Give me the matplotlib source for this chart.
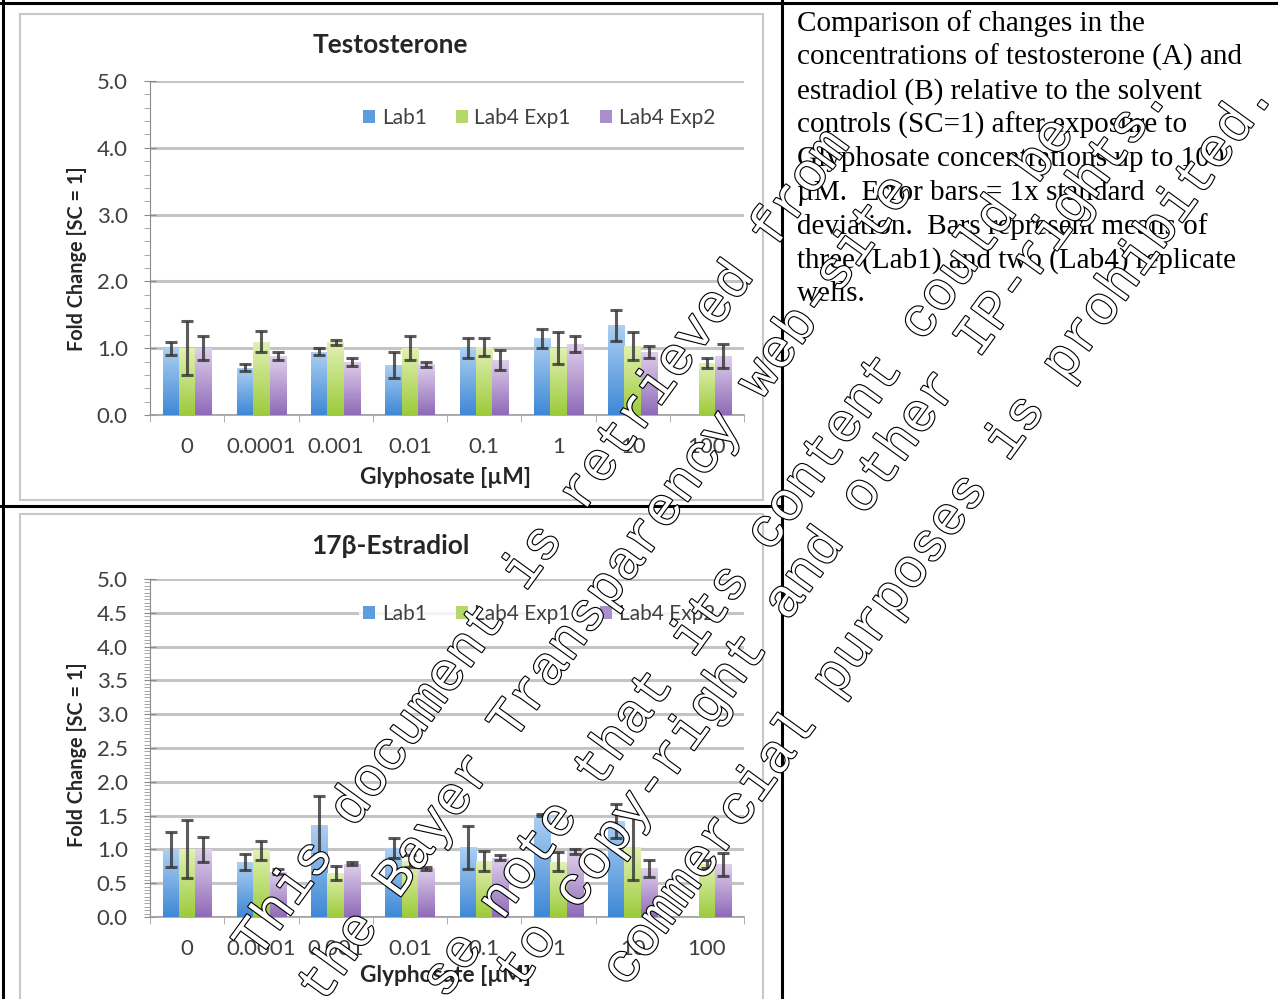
import numpy as np
import matplotlib.pyplot as plt
import matplotlib.patheffects as pe
from matplotlib.patches import Patch, Rectangle
from matplotlib.lines import Line2D
from matplotlib.colors import LinearSegmentedColormap

W, H = 1278, 999

categories = ['0', '0.0001', '0.001', '0.01', '0.1', '1', '10', '100']
series = ['Lab1', 'Lab4 Exp1', 'Lab4 Exp2']

# testosterone, fold change vs solvent control
testo_lab1 = [1.00, 0.71, 0.95, 0.75, 1.01, 1.15, 1.34, np.nan]
testo_lab1_sd = [0.10, 0.05, 0.05, 0.19, 0.15, 0.14, 0.23, np.nan]
testo_exp1 = [1.00, 1.10, 1.09, 1.01, 1.02, 1.01, 1.04, 0.78]
testo_exp1_sd = [0.40, 0.16, 0.04, 0.18, 0.14, 0.24, 0.21, 0.08]
testo_exp2 = [1.01, 0.88, 0.80, 0.76, 0.83, 1.07, 0.95, 0.89]
testo_exp2_sd = [0.18, 0.06, 0.06, 0.04, 0.15, 0.12, 0.09, 0.18]

# estradiol, fold change vs solvent control
e2_lab1 = [1.00, 0.81, 1.36, 1.02, 1.03, 1.51, 1.42, np.nan]
e2_lab1_sd = [0.26, 0.12, 0.43, 0.15, 0.32, 0.02, 0.25, np.nan]
e2_exp1 = [1.00, 0.99, 0.65, 0.83, 0.83, 0.82, 1.03, 0.78]
e2_exp1_sd = [0.43, 0.14, 0.10, 0.09, 0.15, 0.14, 0.48, 0.06]
e2_exp2 = [1.00, 0.67, 0.79, 0.72, 0.88, 0.97, 0.72, 0.78]
e2_exp2_sd = [0.19, 0.04, 0.02, 0.02, 0.03, 0.04, 0.13, 0.17]

caption = ['Comparison of changes in the',
           'concentrations of testosterone (A) and',
           'estradiol (B) relative to the solvent',
           'controls (SC=1) after exposure to',
           'Glyphosate concentrations up to 100',
           '\u00b5M.  Error bars = 1x standard',
           'deviation.  Bars represent means of',
           'three (Lab1) and two (Lab4) replicate',
           'wells.']

stamp = ['This document is retrieved from',
         'the Bayer Transparency web-site',
         'se note that its content could be',
         'to copy-right and other IP-rights.',
         'commercial purposes is prohibited.']
stamp_xy = [(258, 960), (322, 1005), (445, 1000), (520, 990), (626, 988)]

grads = [('#add0f2', '#3f88d6'), ('#e2f1b4', '#9dcb3c'), ('#e0d0ec', '#8f6bb8')]
legend_cols = ['#5b9de0', '#b3d96a', '#ab8fcc']

plt.rcParams['font.family'] = ['Lato', 'DejaVu Sans']
fig = plt.figure(figsize=(W / 100, H / 100), dpi=100)

bg = fig.add_axes([0, 0, 1, 1], zorder=0)
bg.set_xlim(0, W)
bg.set_ylim(H, 0)
bg.axis('off')


def px_axes(l, t, r, b):
    return fig.add_axes([l / W, 1 - b / H, (r - l) / W, (b - t) / H], zorder=2)


def draw_chart(ax, vals, sds, ymax, major, minor):
    x = np.arange(len(categories))
    bw = 0.22
    for k in range(3):
        cmap = LinearSegmentedColormap.from_list('g%d' % k, [grads[k][1], grads[k][0]])
        bars = ax.bar(x + (k - 1) * bw, vals[k], bw, color='none', edgecolor='none', zorder=3)
        for rect, v in zip(bars, vals[k]):
            if np.isnan(v):
                continue
            x0 = rect.get_x()
            img = ax.imshow(np.linspace(0, 1, 64).reshape(-1, 1), cmap=cmap, origin='lower',
                            extent=[x0, x0 + bw, 0, v], aspect='auto', zorder=3,
                            interpolation='bilinear')
            img.set_clip_path(rect)
        ax.errorbar(x + (k - 1) * bw, vals[k], yerr=sds[k], fmt='none', ecolor='#333333',
                    elinewidth=2.2, capsize=4.2, capthick=2.2, alpha=0.8, zorder=4)
    ax.set_xlim(-0.5, len(categories) - 0.5)
    ax.set_ylim(0, ymax)
    ax.set_yticks(np.arange(0, ymax + 0.01, major))
    ax.set_yticks(np.arange(0, ymax + 0.01, minor), minor=True)
    ax.set_yticklabels(['%.1f' % v for v in np.arange(0, ymax + 0.01, major)])
    ax.set_xticks(x)
    ax.set_xticklabels(categories)
    ax.set_xticks(np.arange(-0.5, len(categories)), minor=True)
    ax.yaxis.grid(True, which='major', color='#c4c4c4', linewidth=2.2, zorder=0)
    ax.set_axisbelow(True)
    for s in ['top', 'right']:
        ax.spines[s].set_visible(False)
    ax.spines['left'].set_color('#8a8a8a')
    ax.spines['bottom'].set_color('#a0a0a0')
    ax.spines['bottom'].set_linewidth(1.2)
    ax.tick_params(axis='y', which='major', direction='inout', length=8, color='#8a8a8a',
                   labelsize=16, labelcolor='#404040', pad=12)
    ax.tick_params(axis='y', which='minor', direction='out', length=4, color='#9a9a9a')
    ax.tick_params(axis='x', which='major', length=0, labelsize=16, labelcolor='#404040', pad=16)
    ax.tick_params(axis='x', which='minor', direction='out', length=5, color='#a0a0a0')
    handles = [Patch(facecolor=c, edgecolor='none') for c in legend_cols]
    return handles


# frame lines of the layout table
for xs, ys in [([3, 3], [0, H]), ([0, W], [3, 3]), ([782, 782], [0, H]), ([0, 782], [506, 506])]:
    bg.add_line(Line2D(xs, ys, color='black', linewidth=2.2))

# chart area borders
bg.add_patch(Rectangle((20, 14), 743, 486, facecolor='white', edgecolor='#c8c8c8', linewidth=1.5))
bg.add_patch(Rectangle((20, 514), 743, 500, facecolor='white', edgecolor='#c8c8c8', linewidth=1.5))

ax1 = px_axes(150, 81, 744, 415)
h = draw_chart(ax1, [testo_lab1, testo_exp1, testo_exp2],
               [testo_lab1_sd, testo_exp1_sd, testo_exp2_sd], 5.0, 1.0, 0.2)
leg = ax1.legend(h, series, ncol=3, loc='center', bbox_to_anchor=(539 / W, 1 - 118 / H),
                 bbox_transform=fig.transFigure, frameon=False, fontsize=15,
                 handlelength=0.6, handleheight=0.6, handletextpad=0.3, columnspacing=1.4)
for t in leg.get_texts():
    t.set_color('#404040')

ax2 = px_axes(150, 579, 744, 917)
h = draw_chart(ax2, [e2_lab1, e2_exp1, e2_exp2],
               [e2_lab1_sd, e2_exp1_sd, e2_exp2_sd], 5.0, 0.5, 0.05)
leg = ax2.legend(h, series, ncol=3, loc='center', bbox_to_anchor=(539 / W, 1 - 614 / H),
                 bbox_transform=fig.transFigure, frameon=True, fancybox=False, fontsize=15,
                 handlelength=0.6, handleheight=0.6, handletextpad=0.3, columnspacing=1.4,
                 borderpad=0.2)
leg.get_frame().set_facecolor('white')
leg.get_frame().set_edgecolor('none')
for t in leg.get_texts():
    t.set_color('#404040')

# titles and axis labels
for cy, title in [(45, 'Testosterone'), (546, '17\u03b2-Estradiol')]:
    bg.text(390, cy, title, ha='center', va='center', fontsize=19, fontweight='bold', color='#262626')
for cy in (259, 755):
    bg.text(77, cy, 'Fold Change [SC = 1]', ha='center', va='center', rotation=90,
            fontsize=14.3, fontweight='bold', color='#262626')
for cy in (478, 975):
    bg.text(446, cy, 'Glyphosate [\u00b5M]', ha='center', va='center',
            fontsize=16.4, fontweight='bold', color='#262626')

# caption in the right-hand cell
for i, line in enumerate(caption):
    bg.text(797, 24 + 33.8 * i, line, ha='left', va='center', fontsize=21,
            family='Liberation Serif', color='black')

# outlined stamp text across the page
top = fig.add_axes([0, 0, 1, 1], zorder=10)
top.set_xlim(0, W)
top.set_ylim(H, 0)
top.axis('off')
top.patch.set_alpha(0)
for (sx, sy), line in zip(stamp_xy, stamp):
    t = top.text(sx, sy, line, ha='left', va='baseline', rotation=54, rotation_mode='anchor',
                 fontsize=39, family='Liberation Mono', color='white')
    t.set_path_effects([pe.Stroke(linewidth=1.6, foreground='black'), pe.Normal()])

fig.savefig('out.png', dpi=100)
